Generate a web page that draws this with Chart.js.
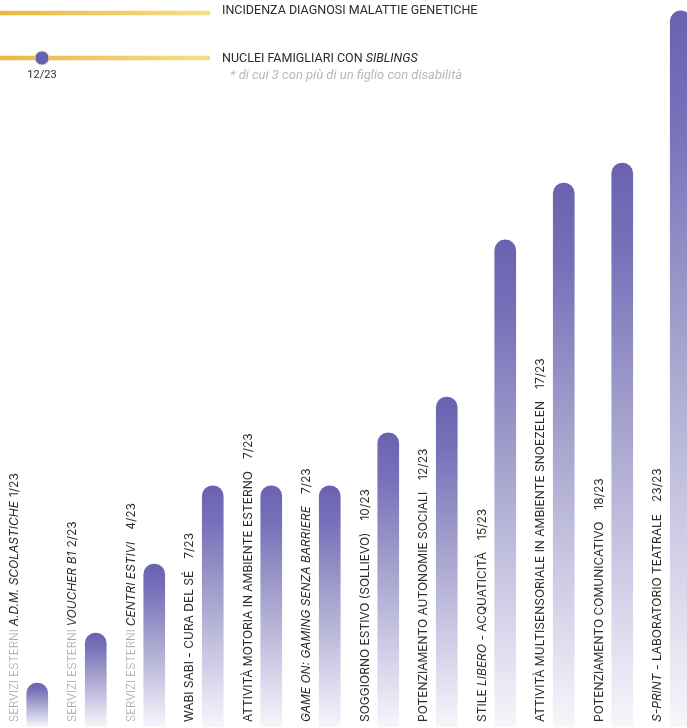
<!DOCTYPE html>
<html>
<head>
<meta charset="utf-8">
<script src="https://cdn.jsdelivr.net/npm/chart.js@4"></script>
<style>
  html, body { margin: 0; padding: 0; background: #fff; overflow: hidden; width: 687px; height: 728px; }
  #main { position: absolute; left: 0; top: 0; width: 710px; height: 728px; }
  #head { position: absolute; left: 0; top: 0; width: 222px; height: 90px; }
  .txt { position: absolute; font-family: Roboto, sans-serif; font-size: 12.5px; color: #2b2b2b; white-space: nowrap; line-height: 16px; }
  .sub { color: #b8b8b8; font-style: italic; font-size: 13px; }
</style>
</head>
<body>
<div id="main"><canvas id="myChart"></canvas></div>
<div id="head"><canvas id="headChart"></canvas></div>
<div class="txt" style="left:222px;top:2px">INCIDENZA DIAGNOSI MALATTIE GENETICHE</div>
<div class="txt" style="left:222px;top:50px">NUCLEI FAMIGLIARI CON <i>SIBLINGS</i></div>
<div class="txt sub" style="left:230px;top:67px">* di cui 3 con più di un figlio con disabilità</div>
<script>
const ctx = document.getElementById('myChart')
const ctxHead = document.getElementById('headChart')

// testi delle barre (*...* = corsivo)
const prefixes = ['SERVIZI ESTERNI', 'SERVIZI ESTERNI', 'SERVIZI ESTERNI', '', '', '', '', '', '', '', '', '']
const names = [
  '*A.D.M. SCOLASTICHE*',
  '*VOUCHER B1*',
  '*CENTRI ESTIVI*',
  'WABI SABI - CURA DEL SÉ',
  'ATTIVITÀ MOTORIA IN AMBIENTE ESTERNO',
  '*GAME ON: GAMING SENZA BARRIERE*',
  'SOGGIORNO ESTIVO (SOLLIEVO)',
  'POTENZIAMENTO AUTONOMIE SOCIALI',
  'STILE *LIBERO* - ACQUATICITÀ',
  'ATTIVITÀ MULTISENSORIALE IN AMBIENTE SNOEZELEN',
  'POTENZIAMENTO COMUNICATIVO',
  '*S-PRINT* - LABORATORIO TEATRALE',
]
const counts = ['1/23', '2/23', '4/23', '7/23', '7/23', '7/23', '10/23', '12/23', '15/23', '17/23', '18/23', '23/23']
// altezza delle barre come appare nel grafico
const barHeights = [1.45, 3.1, 5.38, 7.96, 7.96, 7.96, 9.71, 10.89, 16.08, 17.96, 18.62, 23.64]

// intestazione
const headRows = [1, 0]
const siblingsMark = 0.2
const siblingsLabel = '12/23'

const labelsPlugin = {
  id: 'barLabels',
  afterDatasetsDraw(chart) {
    const c = chart.ctx
    const xs = chart.scales.x
    names.forEach((name, i) => {
      const x = xs.getPixelForValue(i) - 23
      c.save()
      c.translate(x, 722)
      c.rotate(-Math.PI / 2)
      c.textBaseline = 'middle'
      c.textAlign = 'left'
      let pos = 0
      if (prefixes[i]) {
        c.font = '300 11.5px Inter'
        c.fillStyle = '#a8a8a8'
        c.fillText(prefixes[i], pos, 0)
        pos += c.measureText(prefixes[i]).width + 3
      }
      c.fillStyle = '#2b2b2b'
      name.split('*').forEach((part, k) => {
        if (!part) return
        c.font = (k % 2 ? 'italic ' : '') + '12px Inter'
        c.fillText(part, pos, 0)
        pos += c.measureText(part).width
      })
      pos += i < 2 ? 4 : 12
      c.font = '12px Inter'
      c.fillText(counts[i], pos, 0)
      c.restore()
    })
  },
}

new Chart(ctx, {
  type: 'bar',
  data: {
    labels: names.map((n) => n.replace(/\*/g, '')),
    datasets: [
      {
        data: barHeights,
        barThickness: 21,
        borderRadius: 11,
        borderSkipped: 'bottom',
        backgroundColor: (c) => {
          const chart = c.chart
          const area = chart.chartArea
          if (!area) return '#8a84c2'
          const top = chart.scales.y.getPixelForValue(c.raw)
          const g = chart.ctx.createLinearGradient(0, top, 0, area.bottom)
          g.addColorStop(0, '#6a62b0')
          g.addColorStop(0.15, '#7670b9')
          g.addColorStop(0.45, '#a3a0cc')
          g.addColorStop(0.75, '#d1cfe7')
          g.addColorStop(1, '#f7f6fb')
          return g
        },
      },
    ],
  },
  options: {
    responsive: true,
    maintainAspectRatio: false,
    animation: false,
    layout: { padding: { left: 8, right: 0, top: 0, bottom: 1 } },
    plugins: { legend: { display: false }, tooltip: { enabled: false } },
    scales: {
      x: { display: false },
      y: { display: false, min: 0, max: 24 },
    },
  },
  plugins: [labelsPlugin],
})

const gold = (c) => {
  const area = c.chart.chartArea
  if (!area) return '#f0c95a'
  const g = c.chart.ctx.createLinearGradient(area.left, 0, area.right, 0)
  g.addColorStop(0, '#e8b942')
  g.addColorStop(1, '#f8dd88')
  return g
}

const markLabel = {
  id: 'markLabel',
  afterDatasetsDraw(chart) {
    const c = chart.ctx
    const x = chart.scales.x.getPixelForValue(siblingsMark)
    const y = chart.scales.y.getPixelForValue(headRows[1])
    c.save()
    c.font = '11px Roboto'
    c.fillStyle = '#2b2b2b'
    c.textAlign = 'center'
    c.textBaseline = 'middle'
    c.fillText(siblingsLabel, x, y + 17)
    c.restore()
  },
}

new Chart(ctxHead, {
  type: 'scatter',
  data: {
    datasets: [
      {
        data: [{ x: 0, y: headRows[0] }, { x: 1, y: headRows[0] }],
        showLine: true,
        pointRadius: 0,
        borderWidth: 4.5,
        borderCapStyle: 'round',
        borderColor: gold,
        order: 2,
      },
      {
        data: [{ x: 0, y: headRows[1] }, { x: 1, y: headRows[1] }],
        showLine: true,
        pointRadius: 0,
        borderWidth: 4.5,
        borderCapStyle: 'round',
        borderColor: gold,
        order: 2,
      },
      {
        data: [{ x: siblingsMark, y: headRows[1] }],
        pointRadius: 7,
        backgroundColor: '#6760b0',
        borderColor: '#e4d6b0',
        borderWidth: 1,
        order: 0,
      },
    ],
  },
  options: {
    responsive: true,
    maintainAspectRatio: false,
    animation: false,
    layout: { autoPadding: false, padding: { left: 0, right: 12, top: 0, bottom: 0 } },
    plugins: { legend: { display: false }, tooltip: { enabled: false } },
    scales: {
      x: { display: false, min: 0, max: 1 },
      y: { display: false, min: -0.711, max: 1.289 },
    },
  },
  plugins: [markLabel],
})
</script>
</body>
</html>
